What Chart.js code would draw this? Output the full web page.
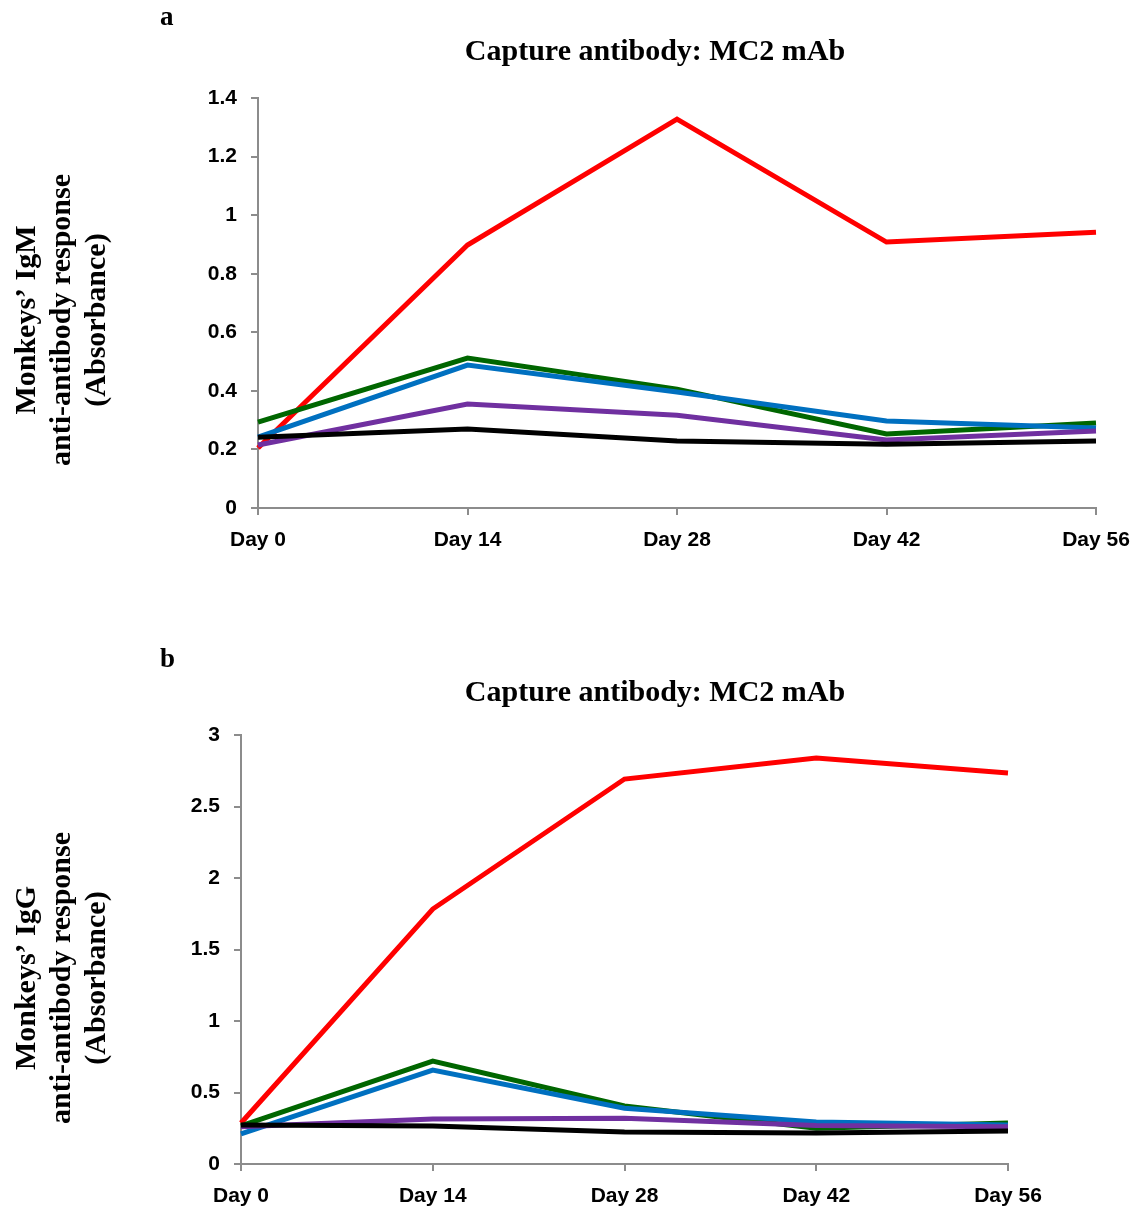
<!DOCTYPE html>
<html>
<head>
<meta charset="utf-8">
<script src="https://cdn.jsdelivr.net/npm/chart.js@4.4.1/dist/chart.umd.min.js"></script>
<style>
  body { margin: 0; background: #fff; }
  .panel { position: absolute; left: 0; width: 1147px; }
  #panelA { top: 0; height: 600px; }
  #panelB { top: 600px; height: 613px; }
</style>
</head>
<body>
<div class="panel" id="panelA"><canvas id="chartA"></canvas></div>
<div class="panel" id="panelB"><canvas id="chartB"></canvas></div>
<script>
// categories
const days = ['Day 0', 'Day 14', 'Day 28', 'Day 42', 'Day 56'];

// panel a - IgM
const igmRed    = [0.205, 0.898, 1.328, 0.908, 0.942];
const igmGreen  = [0.293, 0.512, 0.406, 0.253, 0.290];
const igmBlue   = [0.242, 0.488, 0.396, 0.297, 0.273];
const igmPurple = [0.215, 0.355, 0.317, 0.232, 0.263];
const igmBlack  = [0.242, 0.270, 0.229, 0.218, 0.229];

// panel b - IgG
const iggRed    = [0.287, 1.783, 2.692, 2.839, 2.734];
const iggGreen  = [0.266, 0.720, 0.406, 0.250, 0.287];
const iggBlue   = [0.210, 0.657, 0.390, 0.294, 0.273];
const iggPurple = [0.260, 0.315, 0.320, 0.270, 0.260];
const iggBlack  = [0.273, 0.266, 0.224, 0.217, 0.230];

const colors = ['#ff0000', '#006600', '#0070c0', '#7030a0', '#000000'];
const axisGray = '#8c8c8c';
const serif = "'Liberation Serif', 'Times New Roman', serif";
const sans = "'Liberation Sans', Arial, sans-serif";

// draws the panel letter, the chart title and the rotated y title
const panelText = {
  id: 'panelText',
  afterDraw(chart, args, opts) {
    const ctx = chart.ctx;
    ctx.save();
    ctx.fillStyle = '#000';
    ctx.textBaseline = 'middle';
    ctx.font = 'bold 27px ' + serif;
    ctx.textAlign = 'left';
    ctx.fillText(opts.letter, opts.letterX, opts.letterY);
    ctx.font = 'bold 30px ' + serif;
    ctx.textAlign = 'center';
    ctx.fillText(opts.title, opts.titleX, opts.titleY);

    // y axis title, three lines rotated
    ctx.translate(opts.yTitleX, opts.yTitleY);
    ctx.rotate(-Math.PI / 2);
    opts.yTitle.forEach((line, i) => {
      ctx.fillText(line, 0, i * 35);
    });
    ctx.restore();
  }
};

function makeChart(id, series, yMax, yStep, box, text) {
  const datasets = series.map((s, i) => ({
    data: s,
    borderColor: colors[i],
    backgroundColor: colors[i],
    borderWidth: 5,
    pointRadius: 0,
    tension: 0,
    fill: false
  })).reverse();

  return new Chart(document.getElementById(id), {
    type: 'line',
    data: { labels: days, datasets: datasets },
    plugins: [panelText],
    options: {
      responsive: true,
      maintainAspectRatio: false,
      animation: false,
      layout: { padding: { top: box.top, right: box.right, left: 0, bottom: 0 } },
      plugins: {
        legend: { display: false },
        tooltip: { enabled: false },
        panelText: text
      },
      scales: {
        x: {
          offset: false,
          border: { color: axisGray, width: 2 },
          grid: { drawOnChartArea: false, drawTicks: true, tickLength: 7, color: axisGray, lineWidth: 2 },
          ticks: { color: '#000', font: { family: sans, size: 21, weight: 'bold' }, padding: 13, maxRotation: 0 },
          afterFit: (scale) => { scale.height = box.xHeight; }
        },
        y: {
          min: 0,
          max: yMax,
          border: { color: axisGray, width: 2 },
          grid: { drawOnChartArea: false, drawTicks: true, tickLength: 7, color: axisGray, lineWidth: 2 },
          ticks: {
            stepSize: yStep,
            color: '#000',
            font: { family: sans, size: 21, weight: 'bold' },
            padding: 14,
            callback: (v) => String(parseFloat(v.toFixed(2)))
          },
          afterFit: (scale) => { scale.width = box.left; }
        }
      }
    }
  });
}

makeChart('chartA', [igmRed, igmGreen, igmBlue, igmPurple, igmBlack], 1.4, 0.2,
  { top: 98, right: 51, left: 258, xHeight: 92 },
  { letter: 'a', letterX: 160, letterY: 18, title: 'Capture antibody: MC2 mAb', titleX: 655, titleY: 52,
    yTitle: ['Monkeys\u2019 IgM', 'anti-antibody response', '(Absorbance)'], yTitleX: 27, yTitleY: 320 });

makeChart('chartB', [iggRed, iggGreen, iggBlue, iggPurple, iggBlack], 3, 0.5,
  { top: 135, right: 139, left: 241, xHeight: 49 },
  { letter: 'b', letterX: 160, letterY: 60, title: 'Capture antibody: MC2 mAb', titleX: 655, titleY: 93,
    yTitle: ['Monkeys\u2019 IgG', 'anti-antibody response', '(Absorbance)'], yTitleX: 27, yTitleY: 378 });
</script>
</body>
</html>
